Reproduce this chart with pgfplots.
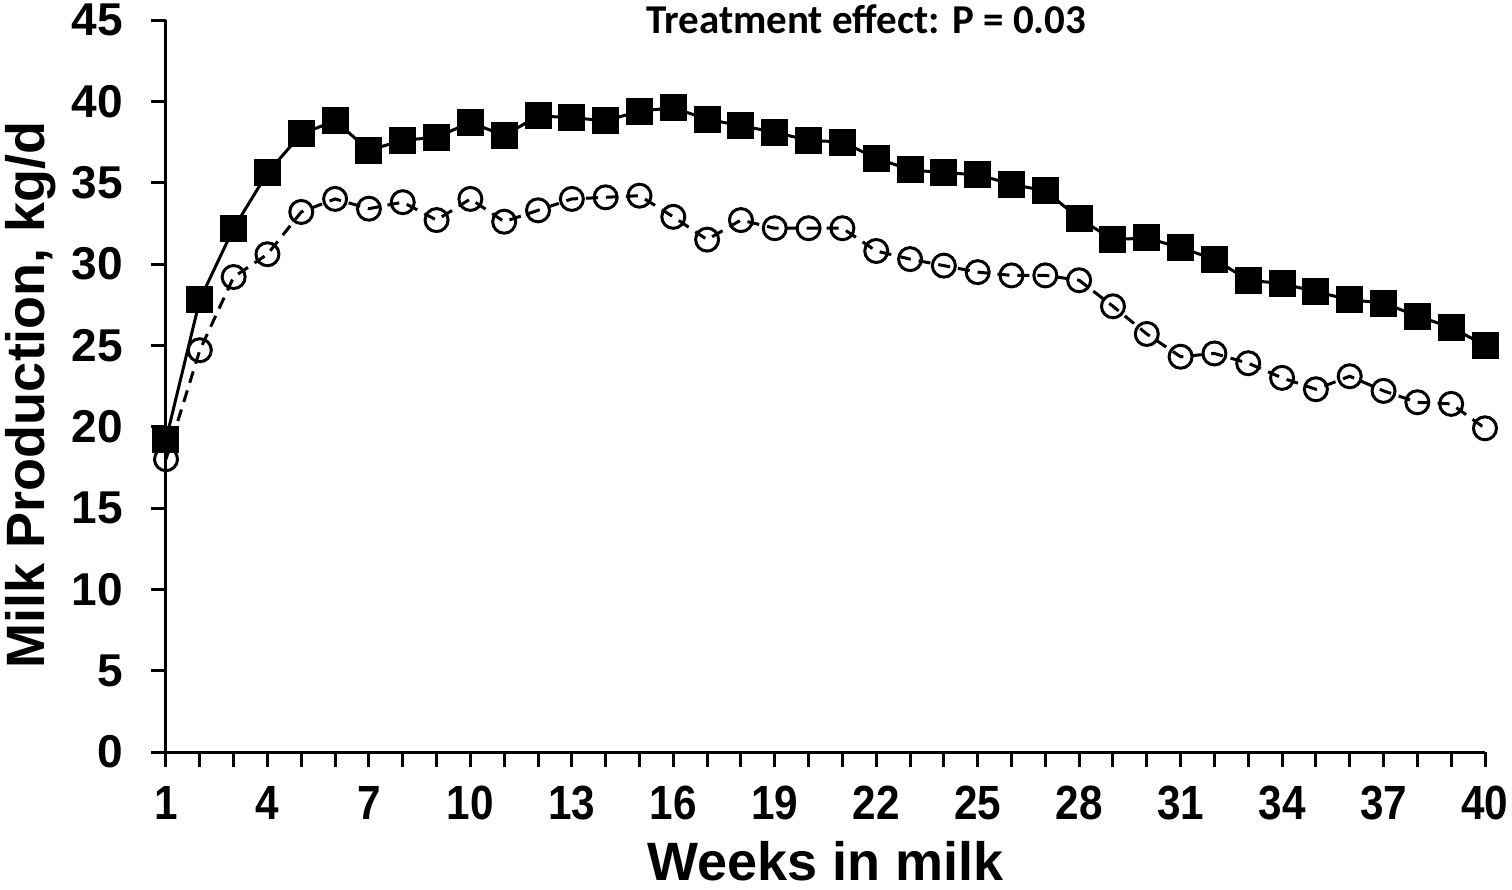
\documentclass[border=0pt]{standalone}
\usepackage{fontspec}
\setmainfont{Liberation Sans}
\newfontfamily\calibri{Carlito}
\usepackage{pgfplots}
\pgfplotsset{compat=1.18}

% weekly means, kg/d
\pgfplotstableread{
week treat control
1  19.2 18.0
2  27.8 24.7
3  32.2 29.2
4  35.6 30.6
5  38.0 33.2
6  38.8 34.0
7  37.0 33.4
8  37.6 33.8
9  37.8 32.7
10 38.7 34.0
11 37.9 32.6
12 39.1 33.3
13 39.0 34.0
14 38.8 34.1
15 39.4 34.2
16 39.6 32.9
17 38.9 31.5
18 38.5 32.7
19 38.1 32.2
20 37.6 32.2
21 37.5 32.2
22 36.5 30.8
23 35.8 30.3
24 35.6 29.9
25 35.5 29.5
26 34.9 29.3
27 34.5 29.3
28 32.8 29.0
29 31.5 27.4
30 31.6 25.7
31 31.0 24.3
32 30.3 24.5
33 29.0 23.9
34 28.8 23.0
35 28.3 22.3
36 27.8 23.1
37 27.6 22.2
38 26.8 21.5
39 26.1 21.4
40 25.0 19.9
}\milk

\begin{document}
\begin{tikzpicture}
  \begin{axis}[
    scale only axis,
    width=659.5pt, height=366pt,
    xmin=1, xmax=40, ymin=0, ymax=45,
    axis x line*=bottom, axis y line*=left,
    axis line style={line width=1.5pt},
    tick align=outside,
    major tick length=7.5pt, minor tick length=7.5pt,
    tick style={line width=1.5pt, black},
    xtick={1,4,...,40},
    minor xtick={1,...,40},
    ytick={0,5,...,45},
    /pgf/number format/assume math mode=true,
    xticklabel={\scalebox{0.88}[1]{\pgfmathprintnumber{\tick}}},
    xticklabel style={font=\bfseries\fontsize{24}{24}\selectfont, yshift=-6pt},
    yticklabel style={font=\bfseries\fontsize{23}{23}\selectfont, xshift=-10.5pt},
    xlabel={Weeks in milk},
    ylabel={Milk Production, kg/d},
    label style={font=\bfseries\fontsize{27}{27}\selectfont, inner sep=0pt},
    xlabel style={at={([yshift=-64pt]axis description cs:0.5,0)}, anchor=base},
    ylabel style={at={([xshift=-80.5pt,yshift=-4.5pt]axis description cs:0,0.5)}, anchor=north},
    clip=false]

    \addplot[black, line width=1.5pt, dash pattern=on 6pt off 4pt,
      mark=o, mark size=5.75pt,
      mark options={solid, fill=white, line width=1.5pt}]
      table[x=week, y=control] {\milk};
    \addplot[black, line width=1.5pt,
      mark=square*, mark size=6pt, mark options={solid}]
      table[x=week, y=treat] {\milk};

    \node[anchor=base, font=\calibri\bfseries\fontsize{20.5}{20.5}\selectfont]
      at ([yshift=-6.5pt]axis description cs:0.531,1) {Treatment effect: P = 0.03};
  \end{axis}
  \pgfresetboundingbox
  \useasboundingbox (-83pt,-69pt) rectangle (673pt,376pt);
\end{tikzpicture}
\end{document}
